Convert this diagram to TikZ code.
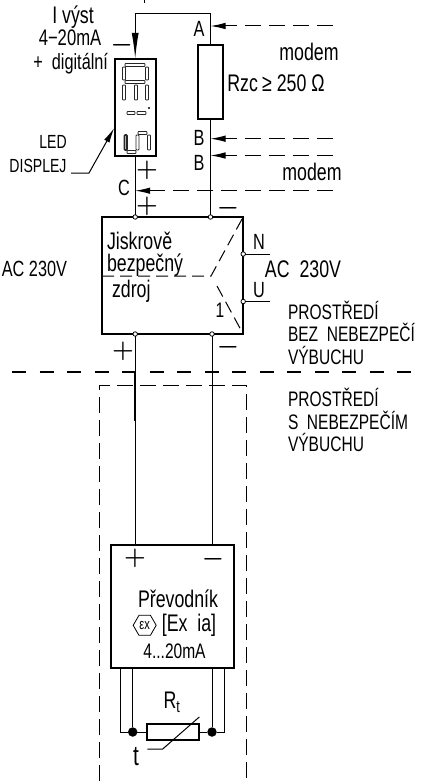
\documentclass[tikz,border=0pt]{standalone}
\usepackage{fontspec}
\setmainfont[FakeStretch=0.74]{Liberation Sans}
\usetikzlibrary{
  arrows.meta,
  shapes.geometric
}

\begin{document}
\begin{tikzpicture}[x=1pt, y=-1pt,
    every node/.style={font=\fontsize{21}{22}\selectfont, inner sep=0pt, outer sep=0pt},
    box/.style={draw, line width=2.3pt},
    wire/.style={line width=1pt},
    thickwire/.style={line width=1.8pt},
    tap/.style={line width=1pt, dash pattern=on 16pt off 8pt, -{Latex[length=15pt,width=6.5pt]}},
    inner/.style={line width=1pt, dash pattern=on 12pt off 6pt},
    junction/.style={circle, draw, fill=white, line width=.8pt, minimum size=4.5pt},
    blob/.style={circle, fill=black, minimum size=9.5pt},
    segment/.style={draw=black!85, fill=white, line width=.9pt, rounded corners=.8pt},
    lefttext/.style={anchor=west},
    lowtext/.style={font=\fontsize{24}{24}\selectfont},
    captext/.style={font=\fontsize{19}{20}\selectfont},
    signtext/.style={font=\fontsize{26}{26}\selectfont\boldmath}]
\useasboundingbox (0,0) rectangle (424,781);

% loop and display
\node [box, minimum width=41pt, minimum height=97pt] (display) at (135.2,107.3) {};
\node [box, minimum width=25pt, minimum height=74pt] (rzc) at (210.5,82) {};
\coordinate (topleft) at (135.2,14);
\coordinate (topright) at (210.5,14);
\coordinate (stuba) at (144,0);
\coordinate (stubb) at (144,3);
\draw [wire] (stuba) -- (stubb);
\draw [wire] (rzc.north) -- (topright) -- (topleft);
\draw [wire, -{Latex[length=26pt,width=7pt]}] (topleft) -- (display.north);
\foreach \sx/\sy/\sw/\sh in {
    125/63.5/20/3, 122.5/67/3/13, 145.5/67/3/13, 125/80.5/20/3,
    122.5/85/3/15, 145.5/85/3/15, 134.5/85/3/15,
    127/111.5/8/3, 137/111.5/9/3,
    136/135/3/15, 147.5/135/3/15, 127/150.5/9/3, 138/131.5/9/3}
  \draw [segment] (\sx,\sy) rectangle +(\sw,\sh);
\draw [segment, line width=1.6pt] (124.5,135) rectangle +(2.5,15);
\fill (149,108) circle (1.1pt);

% isolated supply
\node [box, minimum width=141.5pt, minimum height=117pt] (source) at (172.4,275.5) {};
\node [junction] (srcplus) at (135.2,217) {};
\node [junction] (srcminus) at (210.5,217) {};
\node [junction] (srcn) at (243.2,254) {};
\node [junction] (srcu) at (243.2,301.5) {};
\node [junction] (srcoutplus) at (135.2,334) {};
\node [junction] (srcoutminus) at (212,334) {};
\draw [wire] (display.south) -- (srcplus);
\draw [wire] (rzc.south) -- (srcminus);
\coordinate (nend) at (270,254);
\coordinate (uend) at (270,301.5);
\draw [wire] (srcn) -- (nend);
\draw [wire] (srcu) -- (uend);
\coordinate (switchl) at (102,276);
\coordinate (switchm) at (211,276);
\coordinate (switchb) at (217,286);
\draw [inner] (switchl) -- (switchm) -- (source.north east);
\draw [inner] (switchb) -- (source.south east);

% modem taps
\coordinate (tapa) at (333,26);
\coordinate (tapb) at (333,138.7);
\coordinate (tapbb) at (333,155.5);
\coordinate (tapc) at (333,190.7);
\coordinate (taptoa) at (210.5,26);
\coordinate (taptob) at (210.5,138.7);
\coordinate (taptobb) at (210.5,155.5);
\coordinate (taptoc) at (135.2,190.7);
\draw [tap] (tapa) -- (taptoa);
\draw [tap] (tapb) -- (taptob);
\draw [tap] (tapbb) -- (taptobb);
\draw [tap] (tapc) -- (taptoc);

% led leader
\coordinate (ledend) at (71,173);
\coordinate (ledknee) at (89,173);
\coordinate (ledtip) at (114.2,128);
\draw [wire, -{Latex[length=15pt,width=6pt]}] (ledend) -- (ledknee) -- (ledtip);

% zone boundaries
\coordinate (zonel) at (12,372);
\coordinate (zoner) at (420,372);
\draw [line width=2.5pt, dash pattern=on 14pt off 13.5pt] (zonel) -- (zoner);
\coordinate (barrierbl) at (99,781);
\coordinate (barriertl) at (99,385);
\coordinate (barriertr) at (246,385);
\coordinate (barrierbr) at (246,781);
\draw [line width=1pt, dash pattern=on 16pt off 7pt] (barrierbl) -- (barriertl) -- (barriertr) -- (barrierbr);

% converter
\node [box, minimum width=123pt, minimum height=123pt] (conv) at (172.3,606.2) {};
\coordinate (plusa) at (135.2,372);
\coordinate (plusb) at (135.2,421);
\coordinate (convplus) at (135.2,544.7);
\coordinate (convminus) at (212,544.7);
\draw [wire] (srcoutplus) -- (plusa);
\draw [thickwire] (plusa) -- (plusb);
\draw [wire] (plusb) -- (convplus);
\draw [wire] (srcoutminus) -- (convminus);

% sensor
\node [box, minimum width=52pt, minimum height=15.5pt] (rt) at (172.7,732) {};
\node [blob] (blobl) at (132.7,732) {};
\node [blob] (blobr) at (212,732) {};
\coordinate (outl) at (120.7,667.7);
\coordinate (outr) at (224.3,667.7);
\coordinate (innl) at (132.7,667.7);
\coordinate (innr) at (212,667.7);
\draw [wire] (outl) |- (blobl) -- (rt.west);
\draw [wire] (outr) |- (blobr) -- (rt.east);
\draw [wire] (innl) -- (blobl);
\draw [wire] (innr) -- (blobr);
\coordinate (slopea) at (199.3,717);
\coordinate (slopeb) at (162.7,749);
\coordinate (slopec) at (147.3,749);
\draw [wire] (slopea) -- (slopeb) -- (slopec);

% texts
\node [lowtext] (tvyst) at (73,17) {I výst};
\node [font=\fontsize{22.5}{23}\selectfont] (trange) at (70,38) {4−20mA};
\node [font=\fontsize{22}{23}\selectfont] (tdigital) at (70.7,64) {+\ \ digitální};
\node [signtext] (tminusa) at (121.7,45.7) {$-$};
\node [captext] (tled) at (53,142) {LED};
\node [captext] (tdisplej) at (38,166) {DISPLEJ};
\node [font=\fontsize{22}{23}\selectfont] (ta) at (199,29) {A};
\node [font=\fontsize{22}{23}\selectfont] (tb) at (199,138) {B};
\node [font=\fontsize{22}{23}\selectfont] (tbb) at (199,163) {B};
\node [font=\fontsize{22}{23}\selectfont] (tc) at (124,188) {C};
\node [signtext] (tplusa) at (147,170) {$+$};
\node [signtext] (tplusb) at (147,206) {$+$};
\node [signtext] (tminusb) at (228,208) {$-$};
\node [lowtext] (tmodema) at (309,52) {modem};
\node [lowtext] (trzc) at (276,83) {Rzc$\,$≥ 250 Ω};
\node [lowtext] (tmodemb) at (312,172) {modem};
\node [lefttext, lowtext] (tjisk) at (107,241) {Jiskrově};
\node [lefttext, lowtext] (tbezp) at (107,265) {bezpečný};
\node [lefttext, lowtext] (tzdroj) at (112,291) {zdroj};
\node [anchor=east, font=\fontsize{22}{23}\selectfont] (tacl) at (67,269) {AC\ 230V};
\node [lowtext] (tacr) at (303,269) {AC\ \ 230V};
\node [font=\fontsize{22}{23}\selectfont] (tn) at (259,242) {N};
\node [font=\fontsize{22}{23}\selectfont] (tu) at (259,290) {U};
\node (tone) at (220,310) {1};
\node [signtext] (tplusc) at (123,351) {$+$};
\node [signtext] (tminusc) at (228,347) {$-$};
\node [lefttext] (tsafea) at (288,310) {PROSTŘEDÍ};
\node [lefttext] (tsafeb) at (288,332) {BEZ\ \ NEBEZPEČÍ};
\node [lefttext] (tsafec) at (288,355) {VÝBUCHU};
\node [lefttext] (thaza) at (288,397) {PROSTŘEDÍ};
\node [lefttext] (thazb) at (288,420) {S\ \ NEBEZPEČÍM};
\node [lefttext] (thazc) at (288,442) {VÝBUCHU};
\node [signtext] (tplusd) at (135,558) {$+$};
\node [signtext] (tminusd) at (213,559) {$-$};
\node [lowtext] (tprev) at (178,599) {Převodník};
\node [draw, line width=.8pt, regular polygon, regular polygon sides=6, minimum size=23pt, font=\fontsize{15}{15}\selectfont] (exmark) at (144.7,625.3) {εx};
\node [lowtext] (texia) at (189,625) {[Ex\ \ ia]};
\node (tfour) at (174.5,651) {4...20mA};
\node [lowtext] (trt) at (172,702) {R\textsubscript{\fontsize{17}{17}\selectfont t}};
\node [font=\fontsize{28}{28}\selectfont] (tt) at (136,757) {t};
\end{tikzpicture}
\end{document}
